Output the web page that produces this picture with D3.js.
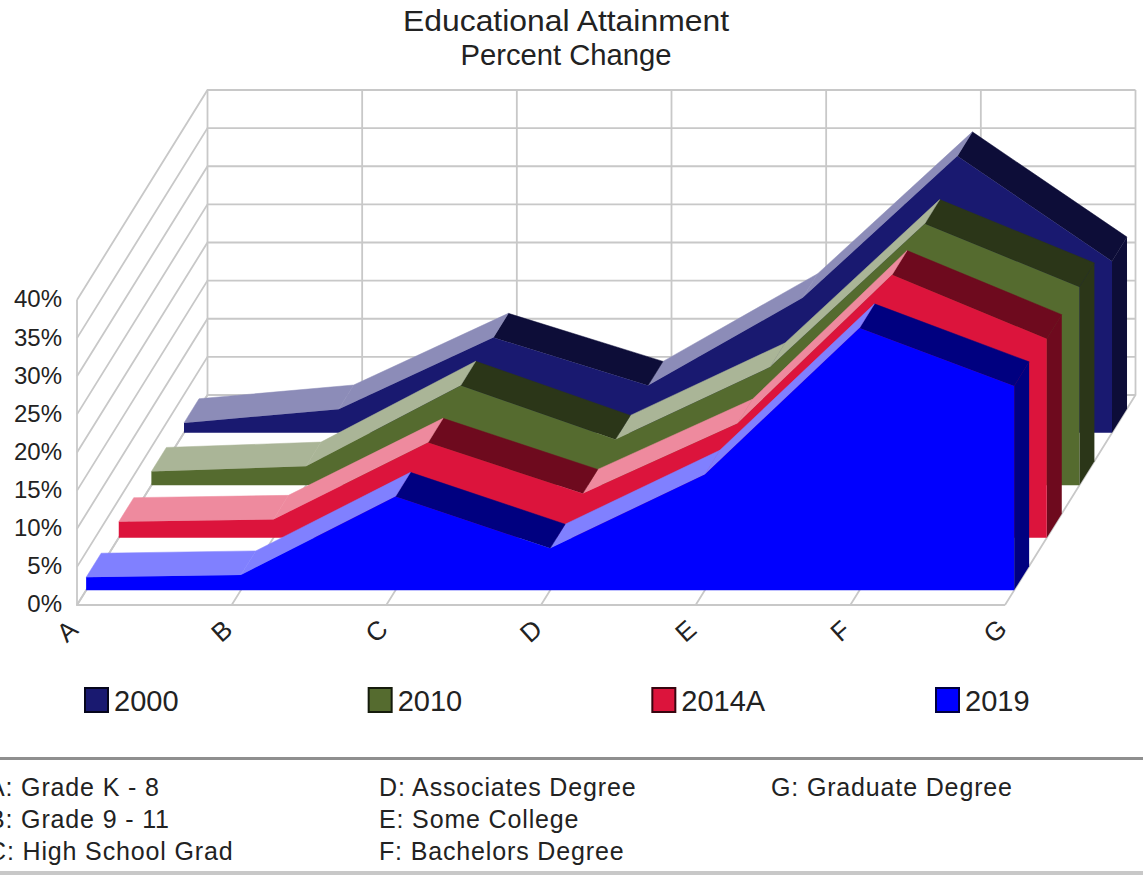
<!DOCTYPE html>
<html><head><meta charset="utf-8">
<script src="https://cdn.jsdelivr.net/npm/d3@7"></script>
<style>html,body{margin:0;padding:0;background:#fff;overflow:hidden}svg{display:block}text{font-family:"Liberation Sans",Arial,sans-serif;fill:#222}</style>
</head><body><svg id="c" width="1143" height="875"></svg>
<script>
const categories = ["A","B","C","D","E","F","G"];
const seriesNames = ["2000","2010","2014A","2019"];
const values2000  = [1.3, 3.1, 12.5, 6.2, 17.7, 36.3, 22.5];
const values2010  = [1.8, 2.5, 13.1, 6.0, 15.5, 34.3, 26.0];
const values2014A = [2.1, 2.4, 12.5, 5.8, 15.0, 34.5, 26.1];
const values2019  = [1.7, 2.0, 12.3, 5.5, 15.2, 34.4, 26.8];
const allValues = [values2000, values2010, values2014A, values2019];
const yTicks = [0,5,10,15,20,25,30,35,40];
const baseColors = ["#191970","#556b2f","#dc143c","#0000ff"];
const keyLines = [
  ["A: Grade K - 8","B: Grade 9 - 11","C: High School Grad"],
  ["D: Associates Degree","E: Some College","F: Bachelors Degree"],
  ["G: Graduate Degree"]
];
const titleLines = ["Educational Attainment","Percent Change"];
const titleWidths = [326,211];

const svg = d3.select("#c");
const x = d3.scalePoint().domain(categories).range([77,1005]);
const y = d3.scaleLinear().domain([0,40]).range([605,300]);
const depthX = d3.scaleLinear().domain([0,4]).range([0,130.5]);
const depthY = d3.scaleLinear().domain([0,4]).range([0,-210]);
const P = (c,v,d) => [x(c)+depthX(d), y(v)+depthY(d)];
const poly = pts => d3.line()(pts)+"Z";
const grid = "#c8c8c8";

// walls
const g = svg.append("g").attr("fill","none").attr("stroke",grid).attr("stroke-width",1.8);
yTicks.forEach(t=>{
  g.append("path").attr("d",d3.line()([P("A",t,0),P("A",t,4),P("G",t,4)]));
});
categories.forEach(c=>{
  g.append("path").attr("d",d3.line()([P(c,0,0),P(c,0,4),P(c,40,4)]));
});
g.append("path").attr("d",d3.line()([P("A",40,0),P("A",0,0),P("G",0,0)]));

// series, back to front
const slotFront = 0.28, slotBack = 0.74;
seriesNames.forEach((name,i)=>{
  const vals = allValues[i];
  const d0 = 3-i+slotFront, d1 = 3-i+slotBack;
  const base = baseColors[i];
  const light = d3.interpolateRgb(base,"#ffffff")(0.5);
  const dark = d3.interpolateRgb(base,"#000000")(0.5);
  const s = svg.append("g").attr("class","series");
  // right-hand end cap
  const last = categories[categories.length-1], lv = vals[vals.length-1];
  s.append("path").attr("d",poly([P(last,0,d0),P(last,lv,d0),P(last,lv,d1),P(last,0,d1)])).attr("fill",dark);
  // top surface, drawn right to left
  d3.range(categories.length-2,-1,-1).forEach(k=>{
    const a = categories[k], b = categories[k+1];
    s.append("path")
      .attr("d",poly([P(a,vals[k],d0),P(b,vals[k+1],d0),P(b,vals[k+1],d1),P(a,vals[k],d1)]))
      .attr("fill",vals[k+1]>=vals[k]?light:dark)
      .attr("stroke",vals[k+1]>=vals[k]?light:dark).attr("stroke-width",0.5);
  });
  // front face
  const front = categories.map((c,k)=>P(c,vals[k],d0));
  s.append("path").attr("d",poly([P("A",0,d0),...front,P(last,0,d0)])).attr("fill",base);
});

// y labels
svg.append("g").selectAll("text").data(yTicks).join("text")
  .attr("x",62).attr("y",t=>y(t)-1).attr("dy","0.35em").attr("text-anchor","end")
  .attr("font-size",24).text(t=>t+"%");
// x labels
svg.append("g").selectAll("text").data(categories).join("text")
  .attr("text-anchor","middle").attr("font-size",26)
  .attr("transform",c=>`translate(${x(c)-10},${631}) rotate(-42)`)
  .attr("dy","0.35em").text(c=>c);
// title
svg.append("g").selectAll("text").data(titleLines).join("text")
  .attr("x",566).attr("y",(d,i)=>21+i*34).attr("dy","0.35em")
  .attr("text-anchor","middle").attr("font-size",29)
  .attr("textLength",(d,i)=>titleWidths[i]).attr("lengthAdjust","spacingAndGlyphs").text(d=>d);
// legend
const legX = d3.scalePoint().domain(seriesNames).range([84,935]);
const leg = svg.append("g");
seriesNames.forEach((n,i)=>{
  leg.append("rect").attr("x",legX(n)+1).attr("y",688).attr("width",23).attr("height",24)
    .attr("fill",baseColors[i]).attr("stroke",d3.interpolateRgb(baseColors[i],"#000")(0.75)).attr("stroke-width",2);
  leg.append("text").attr("x",legX(n)+30).attr("y",701).attr("dy","0.35em").attr("font-size",29).text(n);
});
// category key
svg.append("rect").attr("x",0).attr("y",757).attr("width",1143).attr("height",3).attr("fill","#8f8f8f");
svg.append("rect").attr("x",0).attr("y",871).attr("width",1143).attr("height",4).attr("fill","#c8c8c8");
const keyX = [-12,379,771];
keyLines.forEach((col,c)=>col.forEach((t,r)=>{
  svg.append("text").attr("x",keyX[c]).attr("y",787+r*32).attr("dy","0.35em")
    .attr("font-size",25).attr("letter-spacing",0.85).text(t);
}));
</script></body></html>
